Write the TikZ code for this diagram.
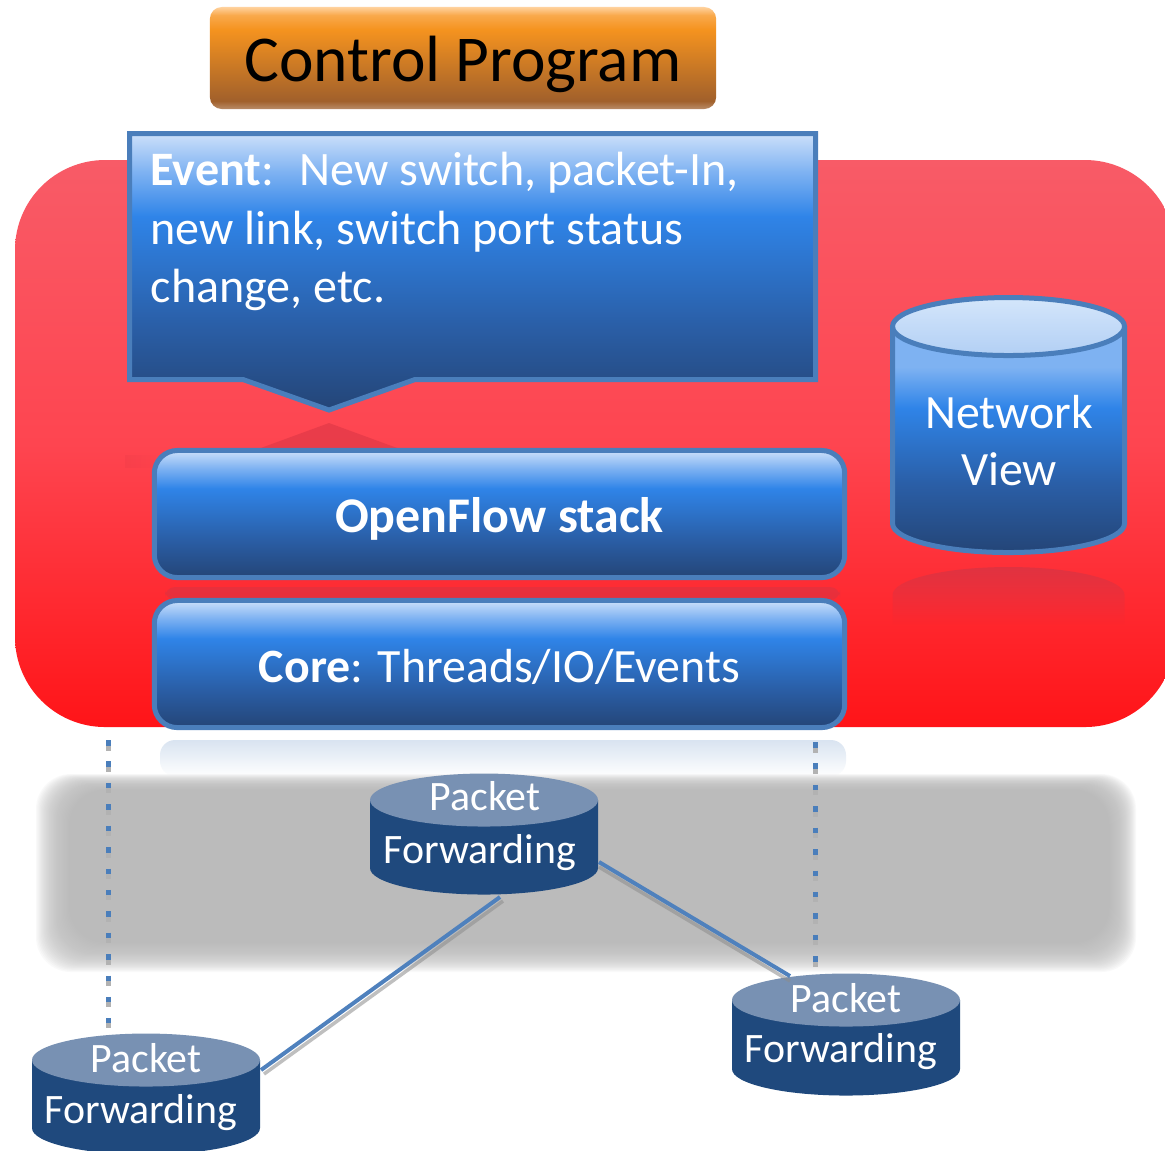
\documentclass[tikz,border=0pt]{standalone}
\usepackage{fontspec}
\setmainfont{Carlito}
\usetikzlibrary{fadings}

% palette
\definecolor{edgeblue}{HTML}{4A7EBB}
\definecolor{linkblue}{HTML}{4F81BD}
\definecolor{pfbody}{HTML}{1F497D}
\definecolor{pftop}{HTML}{7891B3}
\definecolor{bandgray}{HTML}{BBBBBB}
\definecolor{reflred}{HTML}{D63444}
\definecolor{reflblue}{HTML}{D9E4F1}

\definecolor{bb0}{HTML}{244577}
\definecolor{bb1}{HTML}{2A5EA6}
\definecolor{bb2}{HTML}{2F84E8}
\definecolor{bb3}{HTML}{7EB2F2}
\definecolor{bb4}{HTML}{CCE0FA}

\definecolor{rd0}{HTML}{FF1418}
\definecolor{rd1}{HTML}{FE4550}
\definecolor{rd2}{HTML}{F85B67}

\definecolor{or0}{HTML}{B98C68}
\definecolor{or1}{HTML}{A1602B}
\definecolor{or2}{HTML}{F5931F}
\definecolor{or3}{HTML}{F9A94C}
\definecolor{or4}{HTML}{FFD29E}

\definecolor{ct0}{HTML}{B2CFF4}
\definecolor{ct1}{HTML}{D4E6FB}

% gradients (path spans 25bp..75bp)
\pgfdeclareverticalshading{panelblue}{100bp}{color(0bp)=(bb0); color(25bp)=(bb0); color(40bp)=(bb1); color(60bp)=(bb2); color(68bp)=(bb3); color(75bp)=(bb4); color(100bp)=(bb4)}
\pgfdeclareverticalshading{cylblue}{100bp}{color(0bp)=(bb0); color(25bp)=(bb0); color(40bp)=(bb1); color(57bp)=(bb2); color(66bp)=(bb3); color(75bp)=(bb3); color(100bp)=(bb3)}
\pgfdeclareverticalshading{cyltop}{100bp}{color(0bp)=(ct0); color(25bp)=(ct0); color(75bp)=(ct1); color(100bp)=(ct1)}
\pgfdeclareverticalshading{redpanel}{100bp}{color(0bp)=(rd0); color(25bp)=(rd0); color(50bp)=(rd1); color(75bp)=(rd2); color(100bp)=(rd2)}
\pgfdeclareverticalshading{ctlorange}{100bp}{color(0bp)=(or0); color(25bp)=(or0); color(29bp)=(or1); color(64bp)=(or2); color(71bp)=(or3); color(75bp)=(or4); color(100bp)=(or4)}

\tikzset{
  lbl/.style={inner sep=0pt, text=white},
  evtxt/.style={lbl, anchor=base west, font=\fontsize{13.66}{16.5}\selectfont},
  nvtxt/.style={lbl, anchor=base, font=\fontsize{13.6}{16}\selectfont},
  pftxt/.style={lbl, anchor=base, font=\fontsize{11.9}{14}\selectfont},
  edge5/.style={draw=edgeblue, line width=0.05cm},
  stackbox/.style={shade, shading=panelblue, edge5, rounded corners=0.23cm,
    minimum width=6.9cm, minimum height=1.27cm, inner sep=0pt,
    text height=0.36cm, text depth=0pt, text=white},
  linkline/.style={linkblue, line width=0.04cm},
  linkshadow/.style={black!45, line width=0.035cm, opacity=0.55},
  dotline/.style={edgeblue, line width=0.05cm, dash pattern=on 0.055cm off 0.159cm},
  dotshadow/.style={black!30, line width=0.05cm, dash pattern=on 0.055cm off 0.159cm},
}

% packet-forwarding drum: #1 cx, #2 top cy, #3 bottom cy
\newcommand\pfdrum[3]{%
  \fill[pfbody] ({#1-114},#2) -- ({#1-114},#3)
     arc[start angle=180,end angle=0,x radius=114,y radius=26.5] -- ({#1+114},#2) -- cycle;
  \fill[pftop] (#1,#2) ellipse[x radius=114,y radius=26.5];
}

\begin{document}
\begin{tikzpicture}[x=0.01cm,y=-0.01cm,line join=miter]
\useasboundingbox (0,0) rectangle (1165,1150);
\fill[white] (0,0) rectangle (1165,1150);

% ---------- controller panel ----------
\shade[shading=redpanel, rounded corners=0.9cm] (15,160) rectangle (1175,727);

% faint reflections on the panel
\fill[reflred, opacity=0.5] (258,449) -- (329,423) -- (400,449) -- cycle;
\fill[reflred, opacity=0.15, path fading=east] (125,455) rectangle (156,468);
\fill[reflred, opacity=0.55, rounded corners=0.1cm] (165,587) rectangle (840,600);
\fill[reflred, opacity=0.75, path fading=south] (892.5,595)
   arc[start angle=180,end angle=360,x radius=116,y radius=28] -- (1124.5,625) -- (892.5,625) -- cycle;

% ---------- control program ----------
\node[shade, shading=ctlorange, rounded corners=0.12cm, minimum width=5.06cm,
      minimum height=1.02cm, inner sep=0pt, text height=0.46cm, text depth=0pt,
      font=\fontsize{18.6}{22}\selectfont] (ctl) at (463,58) {Control Program};

% ---------- event callout ----------
\shade[shading=panelblue] (129.5,133.5) -- (815.5,133.5) -- (815.5,379.5) -- (415,379.5)
   -- (329,410) -- (243,379.5) -- (129.5,379.5) -- cycle;
\draw[edge5] (129.5,133.5) -- (815.5,133.5) -- (815.5,379.5) -- (415,379.5)
   -- (329,410) -- (243,379.5) -- (129.5,379.5) -- cycle;
\node[evtxt] (ev1) at (150,185) {\textbf{Event}:~ New switch, packet-In,};
\node[evtxt] (ev2) at (150,244) {new link, switch port status};
\node[evtxt] (ev3) at (150,302) {change, etc.};

% ---------- stack ----------
\node[stackbox, font=\fontsize{14.2}{17}\selectfont\bfseries] (ofs) at (499.5,514) {OpenFlow stack};
\node[stackbox, font=\fontsize{13.6}{16}\selectfont] (core) at (499.5,664) {\textbf{Core}: Threads/IO/Events};

% ---------- network view store ----------
\shade[shading=cylblue] (892.5,326.5) -- (892.5,523.5)
   arc[start angle=180,end angle=0,x radius=116,y radius=29] -- (1124.5,326.5) -- cycle;
\shade[shading=cyltop] (1008.5,326.5) ellipse[x radius=116,y radius=29];
\draw[edge5] (892.5,326.5) -- (892.5,523.5)
   arc[start angle=180,end angle=0,x radius=116,y radius=29] -- (1124.5,326.5);
\draw[edge5] (1008.5,326.5) ellipse[x radius=116,y radius=29];
\node[nvtxt] (nv1) at (1009,428) {Network};
\node[nvtxt] (nv2) at (1009,485) {View};

% ---------- data plane ----------
% soft grey plane: many faint stacked layers give the blurred rim
\foreach \k in {0,...,39}
  \fill[bandgray, opacity=0.08, rounded corners=0.35cm]
     ({36+1.25*\k},{774+0.6*\k}) rectangle ({1136-1.0*\k},{972-1.1*\k});
\fill[reflblue, path fading=south, rounded corners=0.15cm] (160,740) rectangle (846,776);

% switches
\pfdrum{484}{800}{868}
\pfdrum{146}{1060}{1128}
\pfdrum{846}{1000}{1069}
\node[pftxt] (pfa1) at (485,810) {Packet};
\node[pftxt] (pfa2) at (480,863) {Forwarding};
\node[pftxt] (pfb1) at (146,1072) {Packet};
\node[pftxt] (pfb2) at (141,1123) {Forwarding};
\node[pftxt] (pfc1) at (846,1012) {Packet};
\node[pftxt] (pfc2) at (841,1062) {Forwarding};

% link end points on the drums
\coordinate (pfa-s) at (500,897);
\coordinate (pfa-e) at (599,862);
\coordinate (pfb-e) at (261,1070);
\coordinate (pfc-n) at (790,976);

\draw[linkshadow] ([shift={(3,4)}]pfa-s) -- ([shift={(3,4)}]pfb-e);
\draw[linkshadow] ([shift={(0,5)}]pfa-e) -- ([shift={(0,5)}]pfc-n);
\draw[linkline] (pfa-s) -- (pfb-e);
\draw[linkline] (pfa-e) -- (pfc-n);

% control channels
\coordinate (chL-top) at (108,740);
\coordinate (chL-bot) at (108,1023);
\coordinate (chR-top) at (815,742);
\coordinate (chR-bot) at (815,968);
\draw[dotshadow] ([shift={(0,5)}]chL-top) -- ([shift={(0,5)}]chL-bot);
\draw[dotshadow] ([shift={(0,5)}]chR-top) -- ([shift={(0,5)}]chR-bot);
\draw[dotline] (chL-top) -- (chL-bot);
\draw[dotline] (chR-top) -- (chR-bot);
\end{tikzpicture}
\end{document}
